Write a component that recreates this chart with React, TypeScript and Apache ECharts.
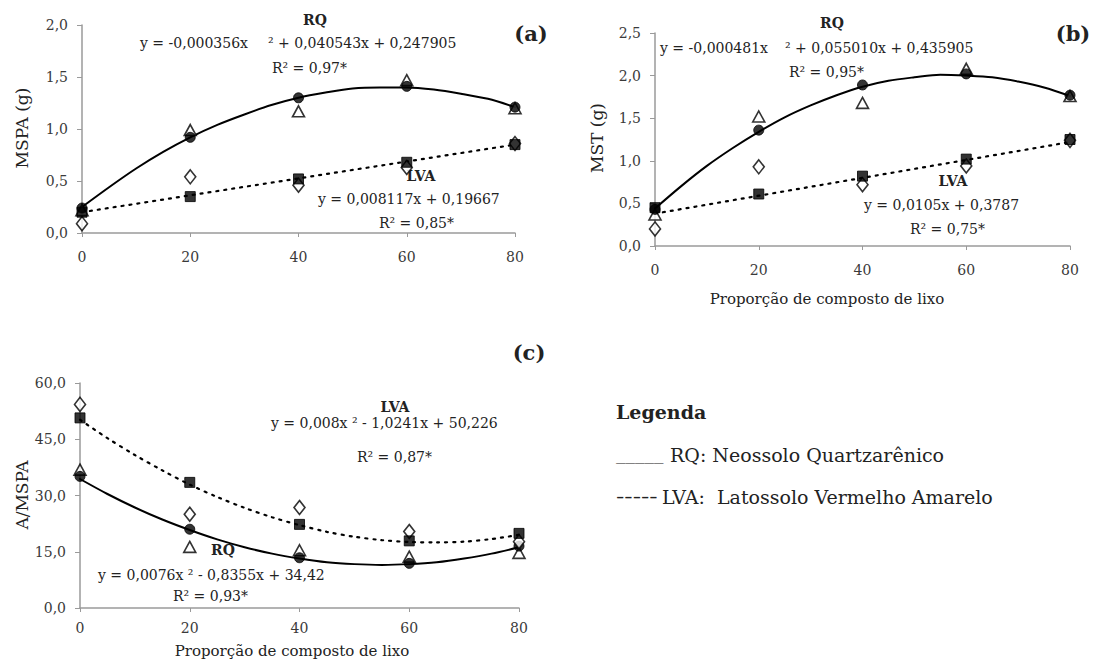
import React, { useEffect, useRef } from "react";
import * as echarts from "echarts";

// x positions (proporção de composto de lixo)
const xPoints = [0, 20, 40, 60, 80];
const trendX = [0, 5, 10, 15, 20, 25, 30, 35, 40, 45, 50, 55, 60, 65, 70, 75, 80];
const lineX = [0, 80];

// Panel (a) MSPA (g)
const aRqCircle = [0.24, 0.92, 1.3, 1.41, 1.21];
const aRqTriangle = [0.22, 0.99, 1.17, 1.47, 1.2];
const aLvaSquare = [0.2, 0.35, 0.52, 0.68, 0.85];
const aLvaDiamond = [0.09, 0.54, 0.46, 0.63, 0.86];
const aRqTrend = [0.25, 0.44, 0.62, 0.78, 0.92, 1.04, 1.14, 1.23, 1.3, 1.35, 1.39, 1.4, 1.4, 1.38, 1.34, 1.29, 1.21];
const aLvaTrend = [0.2, 0.85];

// Panel (b) MST (g)
const bRqCircle = [0.43, 1.36, 1.89, 2.02, 1.77];
const bRqTriangle = [0.37, 1.52, 1.68, 2.08, 1.76];
const bLvaSquare = [0.45, 0.61, 0.82, 1.02, 1.25];
const bLvaDiamond = [0.2, 0.93, 0.72, 0.94, 1.24];
const bRqTrend = [0.44, 0.7, 0.94, 1.15, 1.34, 1.51, 1.65, 1.77, 1.87, 1.94, 1.98, 2.01, 2.0, 1.98, 1.93, 1.86, 1.76];
const bLvaTrend = [0.38, 1.22];

// Panel (c) A/MSPA
const cRqCircle = [35.1, 21.0, 13.4, 11.9, 16.5];
const cRqTriangle = [36.9, 16.3, 15.4, 13.7, 14.7];
const cLvaSquare = [50.7, 33.5, 22.3, 17.9, 19.9];
const cLvaDiamond = [54.3, 25.0, 26.8, 20.4, 17.7];
const cRqTrend = [34.4, 30.4, 26.8, 23.6, 20.8, 18.3, 16.2, 14.5, 13.2, 12.2, 11.7, 11.5, 11.7, 12.2, 13.2, 14.5, 16.2];
const cLvaTrend = [50.2, 45.3, 40.8, 36.7, 32.9, 29.6, 26.7, 24.2, 22.1, 20.3, 19.0, 18.1, 17.6, 17.5, 17.7, 18.4, 19.5];

const yMax = [2.0, 2.5, 60];
const yInterval = [0.5, 0.5, 15];
const xTickLabels = ["0", "20", "40", "60", "80"];

const FONT = "DejaVu Serif";
const TXT = "#222";
const AXIS = "#9a9a9a";

function pairs(xs: number[], ys: number[]) {
  return xs.map((x, i) => [x, ys[i]]);
}

function markers(gi: number, ys: number[], symbol: string, filled: boolean, size: any) {
  return {
    type: "scatter",
    xAxisIndex: gi,
    yAxisIndex: gi,
    data: pairs(xPoints, ys),
    symbol,
    symbolSize: size,
    z: 4,
    itemStyle: filled
      ? { color: "#000", borderColor: "#000", borderWidth: 1 }
      : { color: "#fff", borderColor: "#000", borderWidth: 1.6 },
  };
}

function trend(gi: number, xs: number[], ys: number[], dotted: boolean) {
  return {
    type: "line",
    xAxisIndex: gi,
    yAxisIndex: gi,
    data: pairs(xs, ys),
    smooth: xs.length > 2 ? 0.3 : false,
    showSymbol: false,
    z: 3,
    lineStyle: {
      color: "#000",
      width: dotted ? 2.2 : 2,
      type: dotted ? [2, 6] : "solid",
      cap: "round",
    },
  };
}

function txt(x: number, y: number, text: string, size = 14, opts: any = {}) {
  return {
    type: "text",
    x,
    y,
    rotation: opts.rotation || 0,
    scaleX: opts.scaleX || 1,
    style: {
      text,
      fill: opts.color || TXT,
      font: `${opts.bold ? "bold " : ""}${size}px "${FONT}"`,
      textAlign: opts.align || "left",
      textVerticalAlign: "middle",
    },
  };
}

export default function App() {
  const ref = useRef<HTMLDivElement>(null);
  useEffect(() => {
    document.body.style.margin = "0";
    const chart = echarts.init(ref.current!, null, { renderer: "svg" });
    const grids = [
      { left: 82, top: 25, width: 433, height: 208 },
      { left: 655, top: 33, width: 415, height: 213 },
      { left: 80, top: 383, width: 439, height: 225 },
    ];
    const xLabelMargin = [17, 17, 13];
    const option: any = {
      animation: false,
      backgroundColor: "#fff",
      grid: grids,
      xAxis: grids.map((_, i) => ({
        type: "value",
        gridIndex: i,
        min: 0,
        max: 80,
        interval: 20,
        splitLine: { show: false },
        axisLine: { show: true, lineStyle: { color: AXIS, width: 1.5 } },
        axisTick: { show: true, length: 4, lineStyle: { color: AXIS } },
        axisLabel: {
          margin: xLabelMargin[i],
          fontFamily: FONT,
          fontSize: 14,
          color: "#3a3a3a",
          formatter: (v: number) => xTickLabels[xPoints.indexOf(v)] ?? String(v),
        },
      })),
      yAxis: grids.map((_, i) => ({
        type: "value",
        gridIndex: i,
        min: 0,
        max: yMax[i],
        interval: yInterval[i],
        splitLine: { show: false },
        axisLine: { show: true, lineStyle: { color: AXIS, width: 1.5 } },
        axisTick: { show: true, length: 5, lineStyle: { color: AXIS } },
        axisLabel: {
          margin: 14,
          fontFamily: FONT,
          fontSize: 14,
          color: "#3a3a3a",
          formatter: (v: number) => v.toFixed(1).replace(".", ","),
        },
      })),
      series: [
        trend(0, trendX, aRqTrend, false),
        trend(0, lineX, aLvaTrend, true),
        markers(0, aRqTriangle, "triangle", false, [12, 11]),
        markers(0, aRqCircle, "circle", true, 10),
        markers(0, aLvaDiamond, "diamond", false, [11, 14]),
        markers(0, aLvaSquare, "rect", true, 10),

        trend(1, trendX, bRqTrend, false),
        trend(1, lineX, bLvaTrend, true),
        markers(1, bRqTriangle, "triangle", false, [12, 11]),
        markers(1, bRqCircle, "circle", true, 10),
        markers(1, bLvaDiamond, "diamond", false, [11, 14]),
        markers(1, bLvaSquare, "rect", true, 10),

        trend(2, trendX, cRqTrend, false),
        trend(2, trendX, cLvaTrend, true),
        markers(2, cRqTriangle, "triangle", false, [12, 11]),
        markers(2, cRqCircle, "circle", true, 10),
        markers(2, cLvaDiamond, "diamond", false, [11, 14]),
        markers(2, cLvaSquare, "rect", true, 10),
      ],
      graphic: [
        // panel (a)
        txt(315, 20, "RQ", 14, { bold: true, align: "center" }),
        txt(140, 43, "y = -0,000356x", 14),
        txt(268, 43, "² + 0,040543x + 0,247905", 14),
        txt(272, 68, "R² = 0,97*", 14),
        txt(421, 176, "LVA", 14, { bold: true, align: "center" }),
        txt(318, 199, "y = 0,008117x + 0,19667", 14),
        txt(379, 223, "R² = 0,85*", 14),
        txt(531, 33, "(a)", 21, { bold: true, align: "center" }),
        txt(22, 128, "MSPA (g)", 17, { align: "center", rotation: Math.PI / 2 }),

        // panel (b)
        txt(832, 23, "RQ", 14, { bold: true, align: "center" }),
        txt(660, 48, "y = -0,000481x", 14),
        txt(785, 48, "² + 0,055010x + 0,435905", 14),
        txt(789, 72, "R² = 0,95*", 14),
        txt(953, 181, "LVA", 14, { bold: true, align: "center" }),
        txt(864, 205, "y = 0,0105x + 0,3787", 14),
        txt(910, 229, "R² = 0,75*", 14),
        txt(1073, 33, "(b)", 21, { bold: true, align: "center" }),
        txt(597, 138, "MST (g)", 17, { align: "center", rotation: Math.PI / 2 }),
        txt(827, 299, "Proporção de composto de lixo", 15, { align: "center" }),

        // panel (c)
        txt(529, 352, "(c)", 21, { bold: true, align: "center" }),
        txt(395, 407, "LVA", 14, { bold: true, align: "center" }),
        txt(271, 423, "y = 0,008x ² - 1,0241x + 50,226", 14),
        txt(357, 457, "R² = 0,87*", 14),
        txt(223, 550, "RQ", 14, { bold: true, align: "center" }),
        txt(98, 575, "y = 0,0076x ² - 0,8355x + 34,42", 14),
        txt(173, 596, "R² = 0,93*", 14),
        txt(22, 495, "A/MSPA", 17, { align: "center", rotation: Math.PI / 2 }),
        txt(292, 651, "Proporção de composto de lixo", 15, { align: "center" }),

        // legend
        txt(616, 412, "Legenda", 19, { bold: true }),
        txt(616, 452, "_____", 19),
        txt(670, 455, "RQ: Neossolo Quartzarênico", 19),
        txt(616, 497, "-----", 19, { scaleX: 1.3 }),
        txt(662, 497, "LVA:  Latossolo Vermelho Amarelo", 19),
      ],
    };
    chart.setOption(option);
    return () => chart.dispose();
  }, []);
  return (
    <div
      ref={ref}
      style={{ position: "absolute", left: 0, top: 0, width: 1093, height: 666, background: "#fff" }}
    />
  );
}
